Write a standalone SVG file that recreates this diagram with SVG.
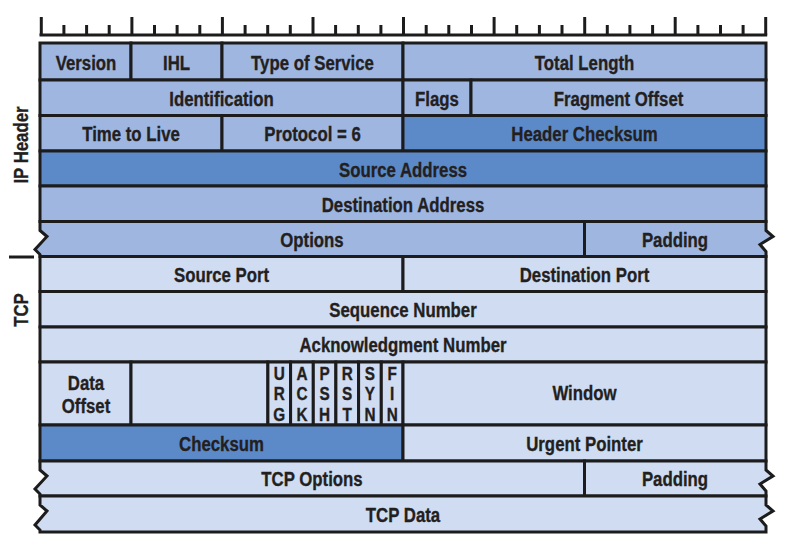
<svg xmlns="http://www.w3.org/2000/svg" width="788" height="554" viewBox="0 0 788 554">
<style>
.ip{fill:#9eb6e0;stroke:#1c1c1c;stroke-width:3;stroke-linejoin:miter}
.dk{fill:#5c8ac9;stroke:#1c1c1c;stroke-width:3}
.tc{fill:#d0dcf2;stroke:#1c1c1c;stroke-width:3;stroke-linejoin:miter}
text{font-family:"Liberation Sans",Arial,sans-serif;font-weight:bold;font-size:21px;fill:#231f20;stroke:#231f20;stroke-width:0.35;text-anchor:middle}
.fl{font-size:18px}
.tick{stroke:#1c1c1c;stroke-width:3}
</style>
<rect width="788" height="554" fill="#ffffff"/>
<g id="ruler">
<line class="tick" x1="39.5" y1="35" x2="767.2" y2="35"/>
<line class="tick" x1="41.3" y1="17" x2="41.3" y2="35"/>
<line class="tick" x1="63.9" y1="25" x2="63.9" y2="35"/>
<line class="tick" x1="86.6" y1="25" x2="86.6" y2="35"/>
<line class="tick" x1="109.2" y1="25" x2="109.2" y2="35"/>
<line class="tick" x1="131.9" y1="17" x2="131.9" y2="35"/>
<line class="tick" x1="154.5" y1="25" x2="154.5" y2="35"/>
<line class="tick" x1="177.1" y1="25" x2="177.1" y2="35"/>
<line class="tick" x1="199.8" y1="25" x2="199.8" y2="35"/>
<line class="tick" x1="222.4" y1="17" x2="222.4" y2="35"/>
<line class="tick" x1="245.1" y1="25" x2="245.1" y2="35"/>
<line class="tick" x1="267.7" y1="25" x2="267.7" y2="35"/>
<line class="tick" x1="290.3" y1="25" x2="290.3" y2="35"/>
<line class="tick" x1="313" y1="17" x2="313" y2="35"/>
<line class="tick" x1="335.6" y1="25" x2="335.6" y2="35"/>
<line class="tick" x1="358.3" y1="25" x2="358.3" y2="35"/>
<line class="tick" x1="380.9" y1="25" x2="380.9" y2="35"/>
<line class="tick" x1="403.5" y1="17" x2="403.5" y2="35"/>
<line class="tick" x1="426.2" y1="25" x2="426.2" y2="35"/>
<line class="tick" x1="448.8" y1="25" x2="448.8" y2="35"/>
<line class="tick" x1="471.5" y1="25" x2="471.5" y2="35"/>
<line class="tick" x1="494.1" y1="17" x2="494.1" y2="35"/>
<line class="tick" x1="516.7" y1="25" x2="516.7" y2="35"/>
<line class="tick" x1="539.4" y1="25" x2="539.4" y2="35"/>
<line class="tick" x1="562" y1="25" x2="562" y2="35"/>
<line class="tick" x1="584.7" y1="17" x2="584.7" y2="35"/>
<line class="tick" x1="607.3" y1="25" x2="607.3" y2="35"/>
<line class="tick" x1="629.9" y1="25" x2="629.9" y2="35"/>
<line class="tick" x1="652.6" y1="25" x2="652.6" y2="35"/>
<line class="tick" x1="675.2" y1="17" x2="675.2" y2="35"/>
<line class="tick" x1="697.9" y1="25" x2="697.9" y2="35"/>
<line class="tick" x1="720.5" y1="25" x2="720.5" y2="35"/>
<line class="tick" x1="743.1" y1="25" x2="743.1" y2="35"/>
<line class="tick" x1="765.7" y1="17" x2="765.7" y2="35"/>
</g>
<g id="labels">
<text transform="translate(28,145) rotate(-90) scale(0.8,1)">IP Header</text>
<text transform="translate(28,310) rotate(-90) scale(0.8,1)">TCP</text>
<line class="tick" x1="9" y1="257" x2="34" y2="257"/>
</g>
<g id="version"><rect class="ip" x="40" y="43" width="91" height="37"/><text transform="translate(86,70) scale(0.8,1)">Version</text></g>
<g id="ihl"><rect class="ip" x="131" y="43" width="91" height="37"/><text transform="translate(176.5,70) scale(0.8,1)">IHL</text></g>
<g id="tos"><rect class="ip" x="222" y="43" width="181" height="37"/><text transform="translate(312.5,70) scale(0.8,1)">Type of Service</text></g>
<g id="total-length"><rect class="ip" x="403" y="43" width="363" height="37"/><text transform="translate(584.5,70) scale(0.8,1)">Total Length</text></g>
<g id="identification"><rect class="ip" x="40" y="80" width="363" height="35.5"/><text transform="translate(221.5,105.5) scale(0.8,1)">Identification</text></g>
<g id="flags"><rect class="ip" x="403" y="80" width="68" height="35.5"/><text transform="translate(437,105.5) scale(0.8,1)">Flags</text></g>
<g id="fragment-offset"><rect class="ip" x="471" y="80" width="295" height="35.5"/><text transform="translate(618.5,105.5) scale(0.8,1)">Fragment Offset</text></g>
<g id="ttl"><rect class="ip" x="40" y="115.5" width="182" height="35.5"/><text transform="translate(131,141) scale(0.8,1)">Time to Live</text></g>
<g id="protocol"><rect class="ip" x="222" y="115.5" width="181" height="35.5"/><text transform="translate(312.5,141) scale(0.8,1)">Protocol = 6</text></g>
<g id="header-checksum"><rect class="dk" x="403" y="115.5" width="363" height="35.5"/><text transform="translate(584.5,141) scale(0.8,1)">Header Checksum</text></g>
<g id="source-address"><rect class="dk" x="40" y="151" width="726" height="35"/><text transform="translate(403,176.5) scale(0.8,1)">Source Address</text></g>
<g id="destination-address"><rect class="ip" x="40" y="186" width="726" height="35.5"/><text transform="translate(403,211.5) scale(0.8,1)">Destination Address</text></g>
<g id="options"><path class="ip" d="M584.5,221.5 H40 V230.5 L47,236.5 L35,249.5 L40,254.5 V256.5 H584.5 Z"/><text transform="translate(312,246.5) scale(0.8,1)">Options</text></g>
<g id="ip-padding"><path class="ip" d="M584.5,221.5 H766 V230.5 L773,236.5 L760,244.5 L766,251.5 V256.5 H584.5 Z"/><text transform="translate(675,246.5) scale(0.8,1)">Padding</text></g>
<g id="source-port"><rect class="tc" x="40" y="256.5" width="363" height="35"/><text transform="translate(221.5,281.5) scale(0.8,1)">Source Port</text></g>
<g id="destination-port"><rect class="tc" x="403" y="256.5" width="363" height="35"/><text transform="translate(584.5,281.5) scale(0.8,1)">Destination Port</text></g>
<g id="sequence-number"><rect class="tc" x="40" y="291.5" width="726" height="35.5"/><text transform="translate(403,317) scale(0.8,1)">Sequence Number</text></g>
<g id="ack-number"><rect class="tc" x="40" y="327" width="726" height="35"/><text transform="translate(403,352) scale(0.8,1)">Acknowledgment Number</text></g>
<g id="data-offset"><rect class="tc" x="40" y="362" width="91" height="63"/><text transform="translate(86,390) scale(0.8,1)">Data</text><text transform="translate(86,412.5) scale(0.8,1)">Offset</text></g>
<g id="reserved"><rect class="tc" x="131" y="362" width="136.9" height="63"/></g>
<g id="urg"><rect class="tc" x="267.9" y="362" width="22.7" height="63"/><text class="fl" transform="translate(279.2,380) scale(0.85,1)">U</text><text class="fl" transform="translate(279.2,400) scale(0.85,1)">R</text><text class="fl" transform="translate(279.2,420.5) scale(0.85,1)">G</text></g>
<g id="ack"><rect class="tc" x="290.6" y="362" width="22.7" height="63"/><text class="fl" transform="translate(301.9,380) scale(0.85,1)">A</text><text class="fl" transform="translate(301.9,400) scale(0.85,1)">C</text><text class="fl" transform="translate(301.9,420.5) scale(0.85,1)">K</text></g>
<g id="psh"><rect class="tc" x="313.3" y="362" width="22.6" height="63"/><text class="fl" transform="translate(324.6,380) scale(0.85,1)">P</text><text class="fl" transform="translate(324.6,400) scale(0.85,1)">S</text><text class="fl" transform="translate(324.6,420.5) scale(0.85,1)">H</text></g>
<g id="rst"><rect class="tc" x="335.9" y="362" width="22.7" height="63"/><text class="fl" transform="translate(347.2,380) scale(0.85,1)">R</text><text class="fl" transform="translate(347.2,400) scale(0.85,1)">S</text><text class="fl" transform="translate(347.2,420.5) scale(0.85,1)">T</text></g>
<g id="syn"><rect class="tc" x="358.6" y="362" width="22.7" height="63"/><text class="fl" transform="translate(369.9,380) scale(0.85,1)">S</text><text class="fl" transform="translate(369.9,400) scale(0.85,1)">Y</text><text class="fl" transform="translate(369.9,420.5) scale(0.85,1)">N</text></g>
<g id="fin"><rect class="tc" x="381.3" y="362" width="21.7" height="63"/><text class="fl" transform="translate(392.2,380) scale(0.85,1)">F</text><text class="fl" transform="translate(392.2,400) scale(0.85,1)">I</text><text class="fl" transform="translate(392.2,420.5) scale(0.85,1)">N</text></g>
<g id="window"><rect class="tc" x="403" y="362" width="363" height="63"/><text transform="translate(584.5,400) scale(0.8,1)">Window</text></g>
<g id="checksum"><rect class="dk" x="40" y="425" width="363" height="36"/><text transform="translate(221.5,451) scale(0.8,1)">Checksum</text></g>
<g id="urgent-pointer"><rect class="tc" x="403" y="425" width="363" height="36"/><text transform="translate(584.5,451) scale(0.8,1)">Urgent Pointer</text></g>
<g id="tcp-options"><path class="tc" d="M584.5,461 H40 V470 L47,476 L35,489 L40,494 V496 H584.5 Z"/><text transform="translate(312,486) scale(0.8,1)">TCP Options</text></g>
<g id="tcp-padding"><path class="tc" d="M584.5,461 H766 V470 L773,476 L760,484 L766,491 V496 H584.5 Z"/><text transform="translate(675,486) scale(0.8,1)">Padding</text></g>
<g id="tcp-data"><path class="tc" d="M40,496 H766 V505 L773,511 L760,519 L766,526 V532 H40 V530 L35,525 L47,511 L40,505 Z"/><text transform="translate(403,521.5) scale(0.8,1)">TCP Data</text></g>
<g id="connectors"></g>
</svg>
